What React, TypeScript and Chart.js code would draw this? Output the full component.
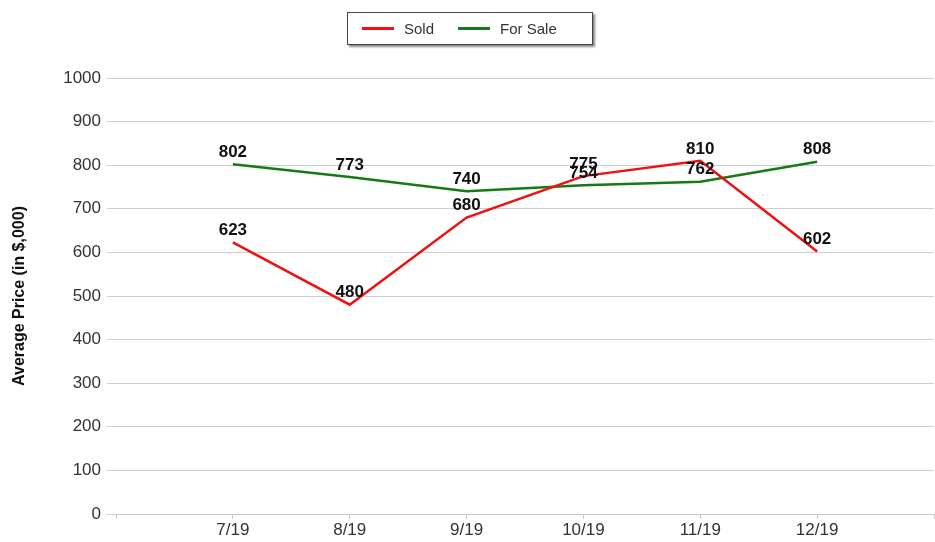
import React, { useEffect, useRef } from "react";
import { Chart, registerables } from "chart.js";

Chart.register(...registerables);

const categories = ["7/19", "8/19", "9/19", "10/19", "11/19", "12/19"];
const soldValues = [623, 480, 680, 775, 810, 602];
const forSaleValues = [802, 773, 740, 754, 762, 808];
const yTicks = [0, 100, 200, 300, 400, 500, 600, 700, 800, 900, 1000];

const FONT = "'Liberation Sans', Arial, sans-serif";

const labelPlugin = {
  id: "pointLabels",
  afterDatasetsDraw(chart: any) {
    const ctx = chart.ctx;
    ctx.save();
    ctx.font = `bold 17px ${FONT}`;
    ctx.fillStyle = "#111";
    ctx.textAlign = "center";
    ctx.textBaseline = "middle";
    chart.data.datasets.forEach((ds: any, i: number) => {
      const meta = chart.getDatasetMeta(i);
      meta.data.forEach((pt: any, j: number) => {
        const v = ds.data[j].y;
        ctx.fillText(String(v), pt.x, pt.y - 12);
      });
    });
    ctx.restore();
  },
};

export default function App() {
  const ref = useRef<HTMLCanvasElement>(null);
  useEffect(() => {
    if (!ref.current) return;
    const chart = new Chart(ref.current, {
      type: "line",
      data: {
        datasets: [
          {
            label: "Sold",
            data: soldValues.map((v, i) => ({ x: i + 1, y: v })),
            borderColor: "#ee1111",
            borderWidth: 2.5,
            pointRadius: 0,
            tension: 0,
          },
          {
            label: "For Sale",
            data: forSaleValues.map((v, i) => ({ x: i + 1, y: v })),
            borderColor: "#167a16",
            borderWidth: 2.5,
            pointRadius: 0,
            tension: 0,
          },
        ],
      },
      options: {
        animation: false,
        responsive: false,
        maintainAspectRatio: false,
        layout: { padding: { top: 78, right: 0, bottom: 0, left: 0 } },
        plugins: {
          legend: { display: false },
          tooltip: { enabled: false },
        },
        scales: {
          x: {
            type: "linear",
            min: 0,
            max: categories.length + 1,
            afterBuildTicks(scale: any) {
              const t = [];
              for (let i = 0; i <= categories.length + 1; i++) t.push({ value: i });
              scale.ticks = t;
            },
            afterFit(scale: any) {
              scale.height = 28;
            },
            ticks: {
              autoSkip: false,
              maxRotation: 0,
              padding: 1,
              color: "#333",
              font: { family: FONT, size: 17 },
              callback: (v: any) => {
                const i = Number(v) - 1;
                return i >= 0 && i < categories.length ? categories[i] : "";
              },
            },
            grid: {
              drawOnChartArea: false,
              drawTicks: true,
              tickLength: 5,
              color: "#c8c8c8",
            },
            border: { display: true, color: "#c8c8c8", width: 1 },
          },
          y: {
            min: 0,
            max: 1000,
            afterBuildTicks(scale: any) {
              scale.ticks = yTicks.map((v) => ({ value: v }));
            },
            afterFit(scale: any) {
              scale.width = 116;
            },
            ticks: {
              padding: 6,
              color: "#333",
              font: { family: FONT, size: 17 },
              callback: (v: any) => String(v),
            },
            grid: {
              color: "#cfcfcf",
              tickLength: 9,
              lineWidth: 1,
            },
            border: { display: false },
            title: {
              display: true,
              text: "Average Price (in $,000)",
              color: "#111",
              font: { family: FONT, size: 16, weight: "bold" },
              padding: { top: 10, bottom: 0 },
            },
          },
        },
      },
      plugins: [labelPlugin],
    } as any);
    return () => chart.destroy();
  }, []);

  return (
    <div style={{ position: "fixed", left: 0, top: 0, width: 935, height: 542, background: "#fff" }}>
      <canvas ref={ref} width={935} height={542} style={{ display: "block" }} />
      <div
        style={{
          position: "absolute",
          left: 347,
          top: 12,
          width: 246,
          height: 33,
          border: "1px solid #444",
          boxShadow: "2px 2px 2px #888",
          background: "#fff",
          fontFamily: FONT,
          fontSize: 15,
          color: "#333",
          display: "flex",
          alignItems: "center",
          boxSizing: "border-box",
        }}
      >
        <span style={{ display: "inline-block", width: 32, height: 2.5, background: "#ee1111", marginLeft: 14 }} />
        <span style={{ marginLeft: 10 }}>Sold</span>
        <span style={{ display: "inline-block", width: 32, height: 2.5, background: "#167a16", marginLeft: 24 }} />
        <span style={{ marginLeft: 10 }}>For Sale</span>
      </div>
    </div>
  );
}
